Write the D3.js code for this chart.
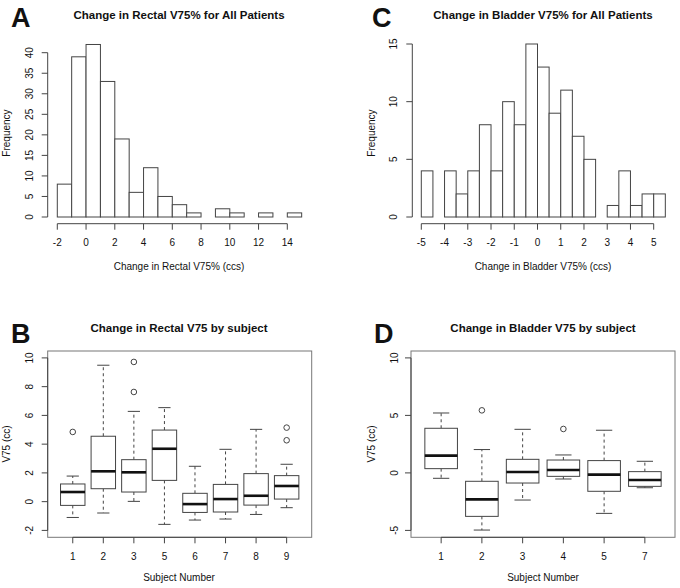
<!DOCTYPE html>
<html><head><meta charset="utf-8">
<script src="https://cdn.jsdelivr.net/npm/d3@7"></script>
<style>
body{margin:0;background:#fff;}
text{font-family:"Liberation Sans",Arial,Helvetica,sans-serif;fill:#111;}
</style></head>
<body><svg id="c" width="680" height="588"></svg>
<script>
// Panel A: rectal histogram
const rectalEdges = [-2,-1,0,1,2,3,4,5,6,7,8,9,10,11,12,13,14,15];
const rectalCounts = [8,39,42,33,19,6,12,5,3,1,0,2,1,0,1,0,1];
const rectalXTicks = [-2,0,2,4,6,8,10,12,14];
const rectalYTicks = [0,5,10,15,20,25,30,35,40];
// Panel C: bladder histogram
const bladderEdges = [-5,-4.5,-4,-3.5,-3,-2.5,-2,-1.5,-1,-0.5,0,0.5,1,1.5,2,2.5,3,3.5,4,4.5,5,5.5];
const bladderCounts = [4,0,4,2,4,8,4,10,8,15,13,9,11,7,5,0,1,4,1,2,2];
const bladderXTicks = [-5,-4,-3,-2,-1,0,1,2,3,4,5];
const bladderYTicks = [0,5,10,15];
// Panel B: rectal boxplots by subject
const rectalSubjects = ["1","2","3","5","6","7","8","9"];
const rectalLowW  = [-1.10,-0.79,0.02,-1.58,-1.28,-1.21,-0.89,-0.42];
const rectalQ1    = [-0.26,0.90,0.67,1.48,-0.75,-0.72,-0.24,0.18];
const rectalMed   = [0.67,2.11,2.04,3.68,-0.17,0.18,0.41,1.09];
const rectalQ3    = [1.23,4.55,2.92,4.98,0.58,1.20,1.95,1.81];
const rectalHighW = [1.78,9.49,6.28,6.54,2.46,3.64,5.03,2.60];
const rectalOut   = [[4.85],[],[9.72,7.63],[],[],[],[],[5.15,4.27]];
const rectalYTicksB = [-2,0,2,4,6,8,10];
// Panel D: bladder boxplots by subject
const bladderSubjects = ["1","2","3","4","5","7"];
const bladderLowW  = [-0.47,-4.97,-2.36,-0.53,-3.52,-1.29];
const bladderQ1    = [0.37,-3.78,-0.88,-0.30,-1.60,-1.17];
const bladderMed   = [1.50,-2.30,0.08,0.25,-0.15,-0.62];
const bladderQ3    = [3.88,-0.73,1.18,1.12,1.07,0.11];
const bladderHighW = [5.21,2.03,3.79,1.56,3.71,1.01];
const bladderOut   = [[],[5.44],[],[3.82],[],[]];
const bladderYTicksD = [-5,0,5,10];

const svg = d3.select("#c");
const LINE = "#444";
const FS = 10;

function letter(t,x,y){
  svg.append("text").attr("x",x).attr("y",y).attr("font-size",27).attr("font-weight","bold").text(t);
}
function title(t,x,y){
  svg.append("text").attr("x",x).attr("y",y).attr("text-anchor","middle").attr("font-size",11.5).attr("font-weight","bold").text(t);
}
function yTitle(t,x,y){
  svg.append("text").attr("transform",`translate(${x},${y}) rotate(-90)`).attr("text-anchor","middle").attr("font-size",FS).text(t);
}
function xTitle(t,x,y){
  svg.append("text").attr("x",x).attr("y",y).attr("text-anchor","middle").attr("font-size",FS).text(t);
}
function yAxisR(g, scale, ticks, xPos, labX){
  g.append("line").attr("x1",xPos).attr("x2",xPos).attr("y1",scale(ticks[0])).attr("y2",scale(ticks[ticks.length-1])).attr("stroke",LINE);
  ticks.forEach(t=>{
    g.append("line").attr("x1",xPos-6).attr("x2",xPos).attr("y1",scale(t)).attr("y2",scale(t)).attr("stroke",LINE);
    g.append("text").attr("transform",`translate(${labX},${scale(t)}) rotate(-90)`).attr("text-anchor","middle").attr("font-size",FS).text(t);
  });
}
function xAxisR(g, scale, ticks, yPos, labY, labels, drawLine){
  if(drawLine) g.append("line").attr("x1",scale(ticks[0])).attr("x2",scale(ticks[ticks.length-1])).attr("y1",yPos).attr("y2",yPos).attr("stroke",LINE);
  ticks.forEach((t,i)=>{
    g.append("line").attr("x1",scale(t)).attr("x2",scale(t)).attr("y1",yPos).attr("y2",yPos+6).attr("stroke",LINE);
    g.append("text").attr("x",scale(t)).attr("y",labY).attr("text-anchor","middle").attr("font-size",FS).text(labels?labels[i]:t);
  });
}

function histogram(edges, counts, xDom, xRange, yDom, yRange, axisX, xTicks, yTicks, labX){
  const g = svg.append("g");
  const x = d3.scaleLinear().domain(xDom).range(xRange);
  const y = d3.scaleLinear().domain(yDom).range(yRange);
  counts.forEach((c,i)=>{
    g.append("rect").attr("x",x(edges[i])).attr("y",y(c)).attr("width",x(edges[i+1])-x(edges[i])).attr("height",y(0)-y(c))
      .attr("fill","#fff").attr("stroke",LINE).attr("stroke-width",1);
  });
  yAxisR(g,y,yTicks,axisX,labX);
  xAxisR(g,x,xTicks,y(0)+6.7,245.5,null,true);
}

histogram(rectalEdges, rectalCounts, [-2,14],[57.3,287.3],[0,40],[217,52.7],47.7,rectalXTicks,rectalYTicks,33);
histogram(bladderEdges, bladderCounts, [-5,5],[421.3,653.7],[0,15],[217,44],412.3,bladderXTicks,bladderYTicks,397);

letter("A",11,27); title("Change in Rectal V75% for All Patients",179,19);
yTitle("Frequency",10,133); xTitle("Change in Rectal V75% (ccs)",179,270);
letter("C",372,27); title("Change in Bladder V75% for All Patients",543,19);
yTitle("Frequency",375,133); xTitle("Change in Bladder V75% (ccs)",543,270);

function boxplot(subjects, lowW, q1, med, q3, highW, outs, frame, yDom, yTicks, labX){
  const g = svg.append("g");
  const n = subjects.length;
  const pad = n*0.04;
  const x = d3.scaleLinear().domain([0.5-pad, n+0.5+pad]).range([frame.x0, frame.x1]);
  const yPad = (yDom[1]-yDom[0])*0.04;
  const y = d3.scaleLinear().domain([yDom[0]-yPad, yDom[1]+yPad]).range([frame.y1, frame.y0]);
  const bw = (x(1)-x(0))*0.8;
  subjects.forEach((s,i)=>{
    const cx = x(i+1);
    g.append("line").attr("x1",cx).attr("x2",cx).attr("y1",y(q3[i])).attr("y2",y(highW[i])).attr("stroke",LINE).attr("stroke-dasharray","3,3");
    g.append("line").attr("x1",cx).attr("x2",cx).attr("y1",y(q1[i])).attr("y2",y(lowW[i])).attr("stroke",LINE).attr("stroke-dasharray","3,3");
    g.append("line").attr("x1",cx-bw/4).attr("x2",cx+bw/4).attr("y1",y(highW[i])).attr("y2",y(highW[i])).attr("stroke",LINE);
    g.append("line").attr("x1",cx-bw/4).attr("x2",cx+bw/4).attr("y1",y(lowW[i])).attr("y2",y(lowW[i])).attr("stroke",LINE);
    g.append("rect").attr("x",cx-bw/2).attr("y",y(q3[i])).attr("width",bw).attr("height",y(q1[i])-y(q3[i]))
      .attr("fill","#fff").attr("stroke",LINE);
    g.append("line").attr("x1",cx-bw/2).attr("x2",cx+bw/2).attr("y1",y(med[i])).attr("y2",y(med[i])).attr("stroke","#111").attr("stroke-width",2.6);
    outs[i].forEach(o=>{
      g.append("circle").attr("cx",cx).attr("cy",y(o)).attr("r",2.8).attr("fill","none").attr("stroke",LINE);
    });
  });
  g.append("rect").attr("x",frame.x0).attr("y",frame.y0).attr("width",frame.x1-frame.x0).attr("height",frame.y1-frame.y0)
    .attr("fill","none").attr("stroke","#777");
  yAxisR(g,y,yTicks,frame.x0,labX);
  const idx = subjects.map((s,i)=>i+1);
  xAxisR(g,x,idx,frame.y1,559.5,subjects,true);
}

boxplot(rectalSubjects, rectalLowW, rectalQ1, rectalMed, rectalQ3, rectalHighW, rectalOut,
  {x0:47.7,x1:311.7,y0:351,y1:537.3},[-2,10],rectalYTicksB,33);
boxplot(bladderSubjects, bladderLowW, bladderQ1, bladderMed, bladderQ3, bladderHighW, bladderOut,
  {x0:411,x1:675,y0:351,y1:537.3},[-5,10],bladderYTicksD,397.5);

letter("B",11,343); title("Change in Rectal V75 by subject",179,332);
yTitle("V75 (cc)",10,444); xTitle("Subject Number",179,581);
letter("D",374,343); title("Change in Bladder V75 by subject",543,332);
yTitle("V75 (cc)",375,444); xTitle("Subject Number",543,581);
</script></body></html>
